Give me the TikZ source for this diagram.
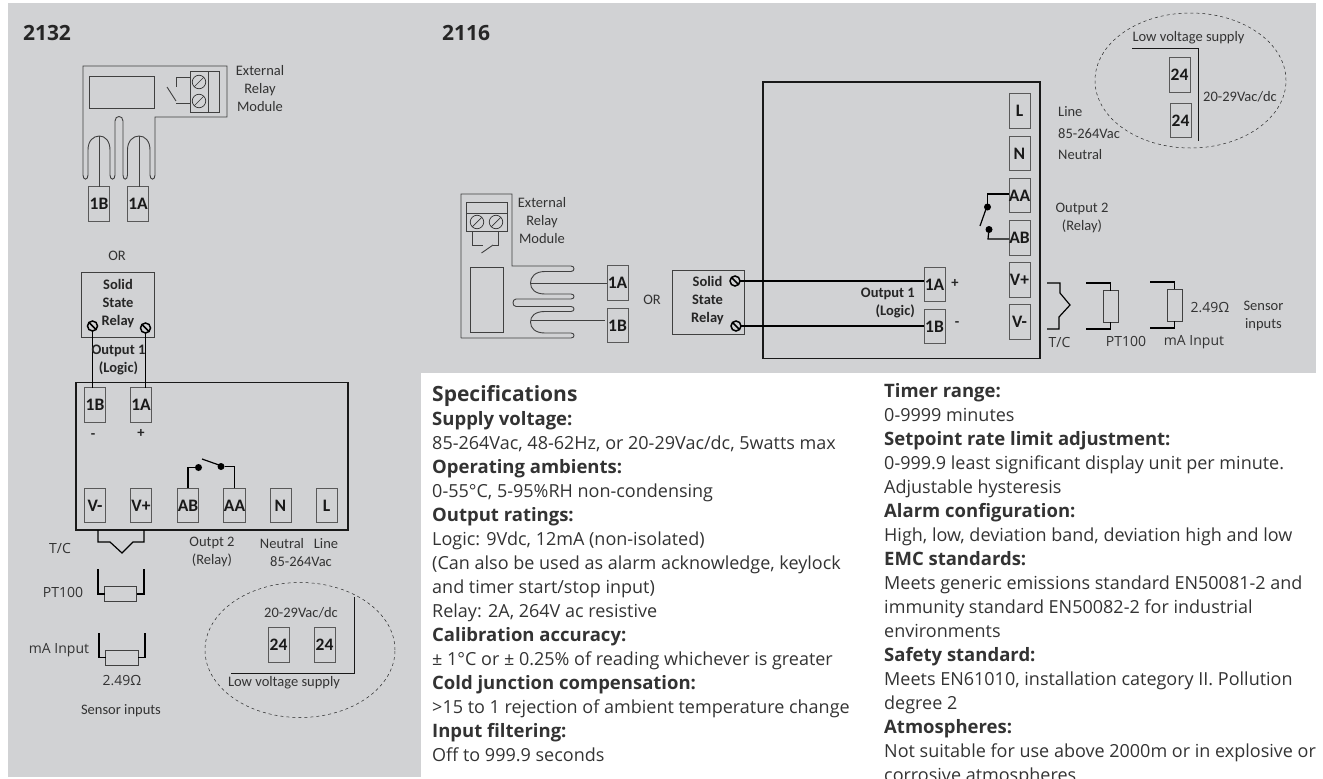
\documentclass[tikz,border=0pt]{standalone}
\usepackage{fontspec}
\setmainfont{Open Sans}
\newfontfamily\labelfont{Carlito}
\usetikzlibrary{positioning,calc,shapes.geometric}
\definecolor{panelGray}{HTML}{D1D2D4}
\definecolor{inkGray}{HTML}{333333}
\tikzstyle{label}    = [inner sep=0, align=center, text=inkGray, font=\labelfont\fontsize{14.5}{18}\selectfont]
\tikzstyle{wideLabel}= [label, font=\fontsize{14}{18}\selectfont]
\tikzstyle{boldLabel}= [label, text=black!85, font=\labelfont\bfseries\fontsize{14.5}{18}\selectfont]
\tikzstyle{title}    = [inner sep=0, text=black!85, font=\bfseries\fontsize{21}{24}\selectfont]
\tikzstyle{termBox}  = [draw=black!65, line width=0.8pt, inner sep=0, outer sep=0, minimum width=21, minimum height=34.5, text=black!90, font=\labelfont\bfseries\fontsize{17.5}{18}\selectfont]
\tikzstyle{frameBox} = [draw=black!90, line width=1.5pt, inner sep=0, outer sep=0]
\tikzstyle{thinBox}  = [draw=black!75, line width=0.9pt, inner sep=0, outer sep=0]
\tikzstyle{thinLine} = [draw=black!75, line width=0.9pt]
\tikzstyle{wire}     = [draw=black, line width=1.2pt]
\tikzstyle{dot}      = [circle, fill=black, inner sep=0, outer sep=0, minimum size=7]
\tikzstyle{halo}     = [ellipse, draw=black!85, line width=0.5pt, dashed, inner sep=0]
\tikzset{
  screw/.style={circle, draw=black!80, line width=0.7pt, inner sep=0, outer sep=0, minimum size=13.5,
    path picture={\draw[black!80, line width=0.7pt] (path picture bounding box.south west) -- (path picture bounding box.north east);}},
  boldScrew/.style={screw, draw=black, line width=1.5pt, minimum size=10,
    path picture={\draw[black, line width=1.5pt] (path picture bounding box.north west) -- (path picture bounding box.south east);}},
  specText/.style={inner sep=0, anchor=north west, align=left, text=inkGray, font=\fontsize{18}{24}\selectfont}
}
\newcommand{\hd}[1]{{\bfseries\fontsize{18.5}{24}\selectfont #1}}
\begin{document}
\begin{tikzpicture}[x=1pt,y=-1pt]
\useasboundingbox (0,0) rectangle (1323,779);
\fill[panelGray] (8,3) rectangle (421,776.5);
\fill[panelGray] (421,3) rectangle (1316,372.5);

\node[title] (title2132) at (47,33) {2132};
\node[title] (title2116) at (466,33) {2116};

% 2132 relay module
\node[thinBox, minimum width=64.5, minimum height=32] (leftCoil) at (121.75,92) {};
\node[thinBox, minimum width=28.5, minimum height=41] (leftBlock) at (205,91.5) {};
\node[screw] (leftScrewA) at (199,82) {};
\node[screw] (leftScrewB) at (199,101) {};
\node[termBox] (leftRelay1B) at (99,204) {1B};
\node[termBox] (leftRelay1A) at (138,204) {1A};
\node[label] (leftRelayText) at (260,89) {External\\Relay\\Module};
\draw[thinLine] (208,71) -- (208,112);
\draw[thinLine] (227,71) -- (227,66) -- (83,66) -- (83,175)
  .. controls (83,180.5) and (88,180.5) .. (88,175) -- (88,150)
  .. controls (88,141) and (93,136) .. (99.5,136)
  .. controls (105,136) and (110,141) .. (110,150) -- (110,175)
  .. controls (110,180.5) and (115,180.5) .. (115,175) -- (115,121)
  .. controls (115,115) and (123,115) .. (123,121) -- (123,175)
  .. controls (123,180.5) and (127.5,180.5) .. (127.5,175) -- (127.5,150)
  .. controls (127.5,141) and (133,136) .. (139,136)
  .. controls (145,136) and (150,141) .. (150,150) -- (150,175)
  .. controls (150,180.5) and (155,180.5) .. (155,175) -- (155,117) -- (227,117) -- (227,71);
\draw[thinLine] (99.5,136) -- (99.5,186.75);
\draw[thinLine] (139,136) -- (139,186.75);
\coordinate (leftCoilA) at (176,87);
\coordinate (leftCoilB) at (176,103);
\draw[thinLine] (leftBlock.west |- 0,77) -| (leftCoilA);
\draw[thinLine] (167,87) -- (176,101);
\draw[thinLine] (leftCoilB) -- (leftBlock.west |- leftCoilB);

\node[label] (leftOr) at (117,256) {OR};
\node[thinBox, minimum width=72.5, minimum height=65] (leftSsr) at (117.75,305) {};
\node[boldLabel] (leftSsrText) at (118,303.5) {Solid\\State\\Relay};
\node[boldScrew] (leftSsrA) at (92.5,326) {};
\node[boldScrew] (leftSsrB) at (145.5,328) {};

% 2132 instrument
\node[frameBox, minimum width=272, minimum height=147.5] (leftInst) at (212,456) {};
\node[termBox] (left1B) at (95,405) {1B};
\node[termBox] (left1A) at (141,405) {1A};
\node[termBox] (leftVm) at (95,505.5) {V-};
\node[termBox] (leftVp) at (141,505.5) {V+};
\node[termBox] (leftAB) at (188,505.5) {AB};
\node[termBox] (leftAA) at (234.5,505.5) {AA};
\node[termBox] (leftN) at (280.5,505.5) {N};
\node[termBox] (leftL) at (326.5,505.5) {L};
\draw[wire] (leftSsrA) -- (leftSsrA |- left1B.north);
\draw[wire] (leftSsrB) -- (leftSsrB |- left1A.north);
\node[boldLabel] (leftOutput) at (118.5,360) {Output 1\\(Logic)};
\node[boldLabel] (leftMinus) at (93,436) {-};
\node[boldLabel] (leftPlus) at (141,433) {+};
\node[dot] (leftDotAB) at (198.5,467.5) {};
\node[dot] (leftDotAA) at (221,466.5) {};
\draw[wire] (leftAB.north) -- (leftAB.north |- leftDotAB) -- (leftDotAB);
\draw[wire] (leftAA.north) -- (leftAA.north |- leftDotAA) -- (leftDotAA);
\draw[wire] (202,459) -- (219,465);
\node[label] (leftOutput2) at (212,552) {Outpt 2\\(Relay)};
\node[label] (leftNeutral) at (282,544) {Neutral};
\node[label] (leftLine) at (326,544) {Line};
\node[label] (leftVac) at (301,562) {85-264Vac};

% 2132 sensors
\node[wideLabel] (leftTc) at (60,548) {T/C};
\draw[wire] (98,530) -- (98,542) -- (110,542) -- (122,553) -- (133,542) -- (144,542) -- (144,530);
\node[wideLabel] (leftPt) at (63,592) {PT100};
\node[thinBox, minimum width=32, minimum height=14.5] (leftPtRes) at (120.5,594) {};
\draw[wire] (98,569) |- (leftPtRes.west);
\draw[wire] (144,569) |- (leftPtRes.east);
\node[wideLabel] (leftMa) at (59,650) {mA Input};
\node[thinBox, minimum width=32.5, minimum height=15] (leftMaRes) at (122,657.5) {};
\draw[wire] (99,633) |- (leftMaRes.west);
\draw[wire] (145,633) |- (leftMaRes.east);
\node[wideLabel] (leftOhm) at (122,681) {2.49Ω};
\node[label] (leftSensor) at (121,711) {Sensor inputs};

% 2132 low voltage supply
\node[halo, minimum width=190, minimum height=135] (leftHalo) at (300,650) {};
\node[termBox] (left24a) at (278.5,645) {24};
\node[termBox] (left24b) at (324.5,645) {24};
\coordinate (leftSupplyA) at (231,673);
\coordinate (leftSupplyB) at (354.5,597);
\draw[thinLine, draw=black!90] (leftSupplyA) -| (leftSupplyB);
\node[label] (leftLowV) at (301,613) {20-29Vac/dc};
\node[label] (leftLowT) at (284,683) {Low voltage supply};

% 2116 relay module
\node[thinBox, minimum width=32.5, minimum height=64.5] (rightCoil) at (486.75,299.75) {};
\node[thinBox, minimum width=41, minimum height=29] (rightBlock) at (486.5,216.5) {};
\node[screw] (rightScrewA) at (477,222) {};
\node[screw] (rightScrewB) at (496,222) {};
\node[termBox] (rightRelay1A) at (617.5,283) {1A};
\node[termBox] (rightRelay1B) at (617.5,325.5) {1B};
\node[label] (rightRelayText) at (542,221) {External\\Relay\\Module};
\draw[thinLine] (466,213) -- (507,213);
\draw[thinLine] (461,338) -- (461,194) -- (512,194) -- (512,266) -- (571,266)
  .. controls (575,266) and (575,271.5) .. (571,271.5) -- (545,271.5)
  .. controls (535,271.5) and (530.5,277) .. (530.5,283)
  .. controls (530.5,289) and (535,294) .. (545,294) -- (571,294)
  .. controls (575,294) and (575,299) .. (571,299) -- (516,299)
  .. controls (512,299) and (512,306.5) .. (516,306.5) -- (571,306.5)
  .. controls (575,306.5) and (575,311.5) .. (571,311.5) -- (545,311.5)
  .. controls (535,311.5) and (530.5,316) .. (530.5,322)
  .. controls (530.5,328) and (535,333) .. (545,333) -- (571,333)
  .. controls (575,333) and (575,338) .. (571,338) -- (461,338);
\draw[thinLine] (530.5,283) -- (rightRelay1A.west);
\draw[thinLine] (530.5,320) -- (605,320);
\coordinate (rightCoilA) at (483,245);
\coordinate (rightCoilB) at (493,245);
\draw[thinLine] (472,231) |- (rightCoilA);
\draw[thinLine] (481.5,253) -- (rightCoilB);
\draw[thinLine] (rightCoilB) -| (498,231);

\node[label] (rightOr) at (652,300) {OR};
\node[thinBox, minimum width=72, minimum height=64.5] (rightSsr) at (708,302.5) {};
\node[boldLabel] (rightSsrText) at (707.5,301) {Solid\\State\\Relay};
\node[boldScrew] (rightSsrA) at (735,281) {};
\node[boldScrew] (rightSsrB) at (736,326) {};

% 2116 instrument
\node[frameBox, minimum width=277, minimum height=276.5] (rightInst) at (901.5,220) {};
\node[termBox] (right1A) at (934.5,284.5) {1A};
\node[termBox] (right1B) at (934.5,326.5) {1B};
\node[termBox] (rightL) at (1019.5,111) {L};
\node[termBox] (rightN) at (1019.5,153.5) {N};
\node[termBox] (rightAA) at (1019.5,195.5) {AA};
\node[termBox] (rightAB) at (1019.5,238) {AB};
\node[termBox] (rightVp) at (1019.5,280) {V+};
\node[termBox] (rightVm) at (1019.5,322) {V-};
\draw[wire] (rightSsrA) -- (rightSsrA -| right1A.west);
\draw[wire] (rightSsrB) -- (rightSsrB -| right1B.west);
\node[boldLabel, anchor=east, align=right] (rightOutput) at (915,303) {Output 1\\(Logic)};
\node[boldLabel] (rightPlus) at (955,283) {+};
\node[boldLabel] (rightMinus) at (957,324) {-};
\node[dot] (rightDotAA) at (987.5,207) {};
\node[dot] (rightDotAB) at (989,229.5) {};
\draw[wire] (rightDotAA) -- (987.5,194) -- (rightAA.west |- 0,194);
\draw[wire] (rightDotAB) -- (988,239) -- (rightAB.west |- 0,239);
\draw[wire] (980,226) -- (986,209);
\node[label, anchor=west] (rightLine) at (1058,112) {Line};
\node[label, anchor=west] (rightVac) at (1058,134) {85-264Vac};
\node[label, anchor=west] (rightNeutral) at (1058,155) {Neutral};
\node[label] (rightOutput2) at (1082,218) {Output 2\\(Relay)};

% 2116 sensors
\draw[wire] (1047,283) -- (1060,283) -- (1060,293) -- (1070,305) -- (1059,317) -- (1059,329) -- (1047,329);
\node[wideLabel] (rightTc) at (1059.5,342) {T/C};
\node[thinBox, minimum width=15, minimum height=31.5] (rightPtRes) at (1110.5,306.5) {};
\draw[wire] (1086,283) -| (rightPtRes.north);
\draw[wire] (1086,329) -| (rightPtRes.south);
\node[wideLabel] (rightPt) at (1126,341) {PT100};
\node[thinBox, minimum width=15, minimum height=32] (rightMaRes) at (1174.5,305) {};
\draw[wire] (1150,282) -| (rightMaRes.north);
\draw[wire] (1150,328) -| (rightMaRes.south);
\node[wideLabel] (rightMa) at (1194,342) {mA Input};
\node[wideLabel] (rightOhm) at (1210,308) {2.49Ω};
\node[label] (rightSensor) at (1263.5,316) {Sensor\\inputs};

% 2116 low voltage supply
\node[halo, minimum width=191, minimum height=135] (rightHalo) at (1190.5,80.5) {};
\node[termBox] (right24a) at (1179.5,75) {24};
\node[termBox] (right24b) at (1180.5,120.5) {24};
\coordinate (rightSupplyA) at (1132,48.5);
\coordinate (rightSupplyB) at (1198.5,141);
\draw[thinLine, draw=black!90] (rightSupplyA) -| (rightSupplyB);
\node[label] (rightLowT) at (1188.5,38) {Low voltage supply};
\node[label] (rightLowV) at (1240,97) {20-29Vac/dc};

% specification columns
\node[specText] (specLeft) at (432,385) {%
  {\bfseries\fontsize{21}{24}\selectfont Specifications}\\
  \hd{Supply voltage:}\\
  85-264Vac, 48-62Hz, or 20-29Vac/dc, 5watts max\\
  \hd{Operating ambients:}\\
  0-55°C, 5-95\%RH non-condensing\\
  \hd{Output ratings:}\\
  Logic: 9Vdc, 12mA (non-isolated)\\
  (Can also be used as alarm acknowledge, keylock\\
  and timer start/stop input)\\
  Relay: 2A, 264V ac resistive\\
  \hd{Calibration accuracy:}\\
  ± 1°C or ± 0.25\% of reading whichever is greater\\
  \hd{Cold junction compensation:}\\
  >15 to 1 rejection of ambient temperature change\\
  \hd{Input filtering:}\\
  Off to 999.9 seconds};
\node[specText] (specRight) at (884,383) {%
  \hd{Timer range:}\\
  0-9999 minutes\\
  \hd{Setpoint rate limit adjustment:}\\
  0-999.9 least significant display unit per minute.\\
  Adjustable hysteresis\\
  \hd{Alarm configuration:}\\
  High, low, deviation band, deviation high and low\\
  \hd{EMC standards:}\\
  Meets generic emissions standard EN50081-2 and\\
  immunity standard EN50082-2 for industrial\\
  environments\\
  \hd{Safety standard:}\\
  Meets EN61010, installation category II. Pollution\\
  degree 2\\
  \hd{Atmospheres:}\\
  Not suitable for use above 2000m or in explosive or\\
  corrosive atmospheres};
\end{tikzpicture}
\end{document}
